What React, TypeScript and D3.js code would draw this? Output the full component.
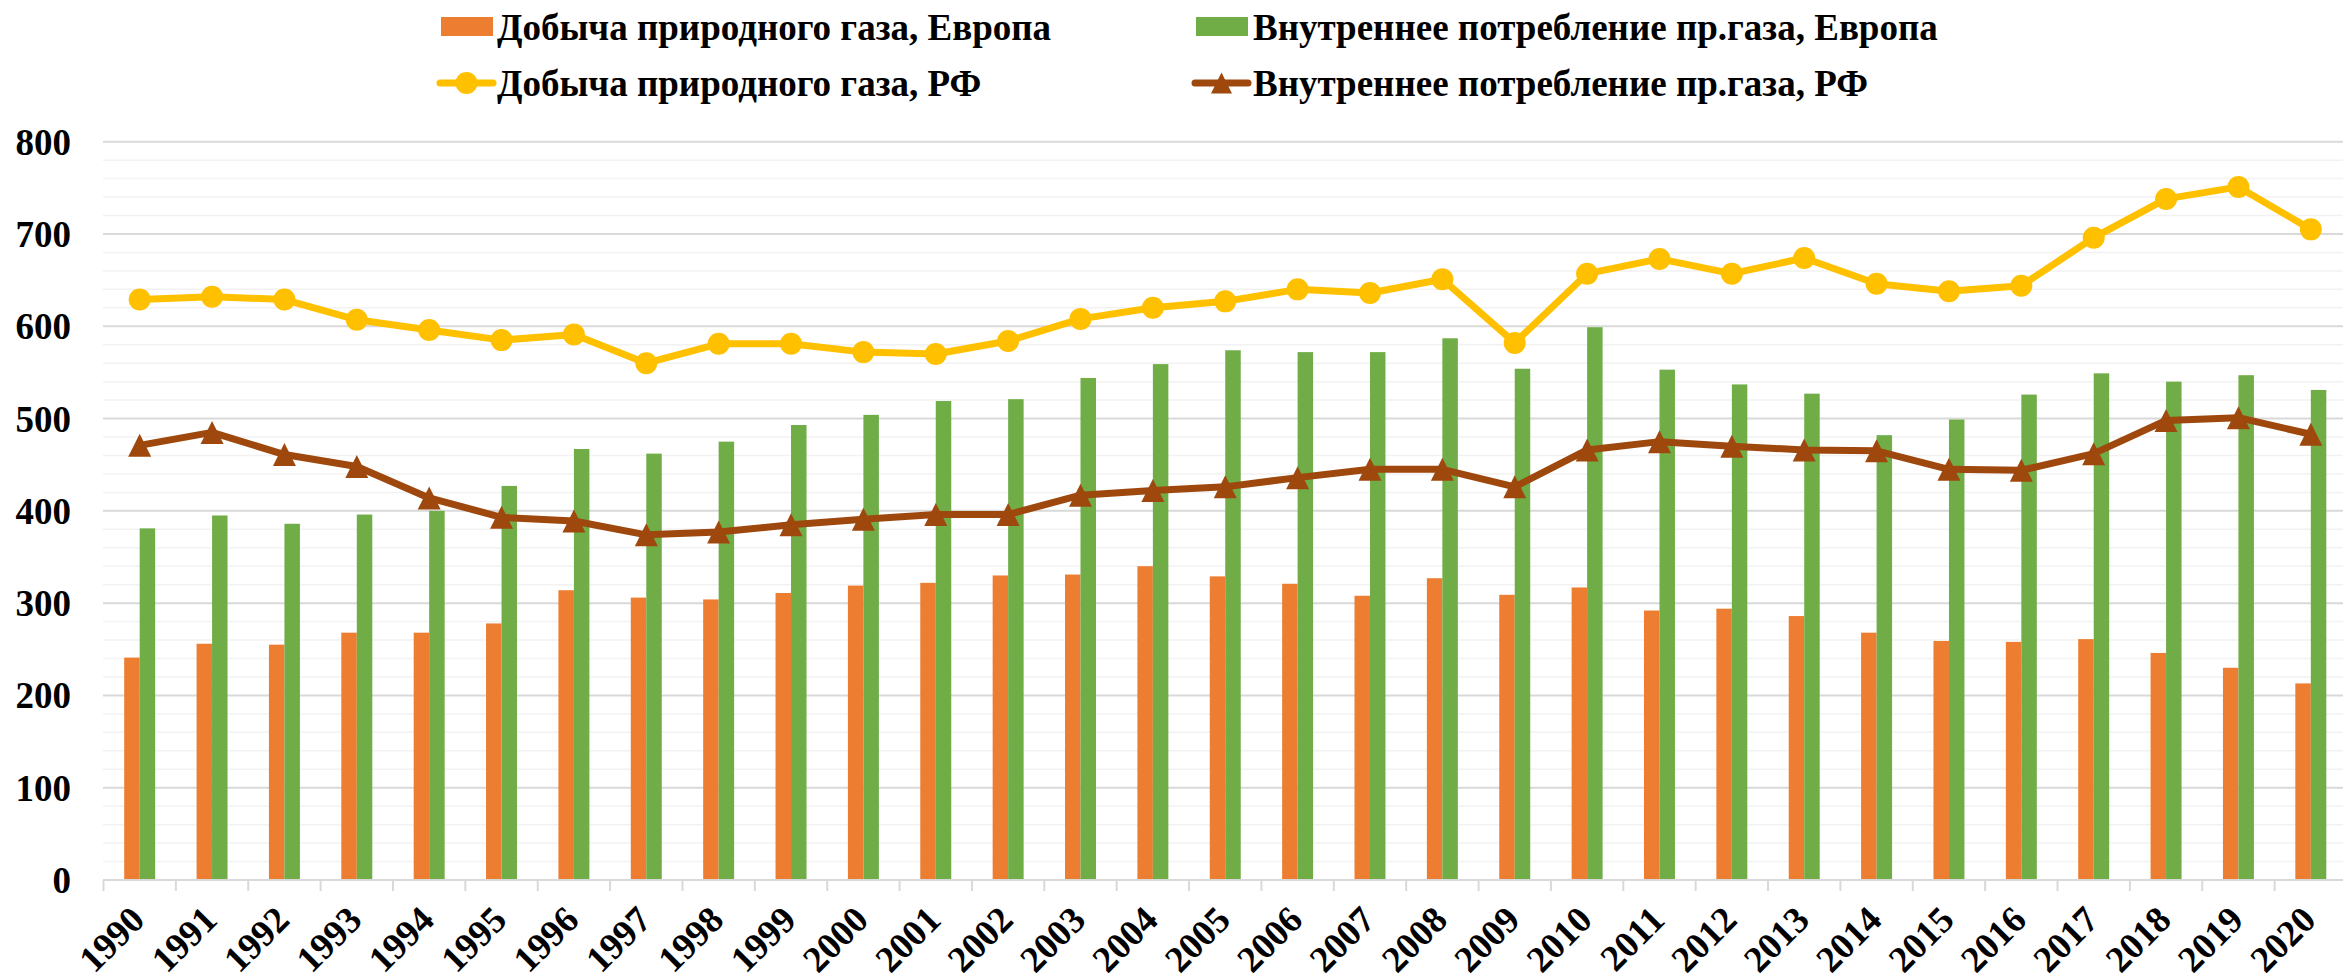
import React from 'react';
import * as d3 from 'd3';

// years on the x axis
const years = d3.range(1990, 2021).map(String);

// Europe, bars
const euProduction = [241, 256, 255, 268, 268, 278, 314, 306, 304, 311, 319, 322, 330, 331, 340, 329, 321, 308, 327, 309, 317, 292, 294, 286, 268, 259, 258, 261, 246, 230, 213];
const euConsumption = [381, 395, 386, 396, 400, 427, 467, 462, 475, 493, 504, 519, 521, 544, 559, 574, 572, 572, 587, 554, 599, 553, 537, 527, 482, 499, 526, 549, 540, 547, 531];

// Russia, lines
const ruProduction = [629, 632, 629, 607, 596, 585, 591, 560, 581, 581, 572, 570, 584, 608, 620, 627, 640, 636, 651, 582, 657, 673, 657, 674, 646, 638, 644, 696, 738, 751, 705];
const ruConsumption = [471, 485, 461, 448, 414, 393, 389, 374, 377, 385, 391, 396, 396, 417, 422, 426, 436, 445, 445, 426, 466, 475, 470, 466, 465, 445, 444, 462, 498, 501, 483];

const yTicks = [0, 100, 200, 300, 400, 500, 600, 700, 800];
const yMinor = d3.range(20, 800, 20).filter(v => v % 100 !== 0);

const legendLabels = [
    'Добыча природного газа, Европа',
    'Внутреннее потребление пр.газа, Европа',
    'Добыча природного газа, РФ',
    'Внутреннее потребление пр.газа, РФ',
];

const W = 2343, H = 980;
const FONT = '"Liberation Serif", "Times New Roman", Times, serif';
const ORANGE = '#ED7D31', GREEN = '#70AD47', YELLOW = '#FFC000', BROWN = '#9E480E';

const triangle = (cx, cy, s) =>
    `M${cx},${cy - s / 2}L${cx + s / 2},${cy + s / 2}L${cx - s / 2},${cy + s / 2}Z`;

export default function App() {
    const x = d3.scaleBand().domain(years).range([103.5, 2347]).paddingInner(0.572).paddingOuter(0.286);
    const sub = d3.scaleBand().domain(['prod', 'cons']).range([0, x.bandwidth()]);
    const y = d3.scaleLinear().domain([0, 800]).range([880, 141.7]);
    const cx = d => x(d) + x.bandwidth() / 2;

    const line = d3.line().x(d => cx(d[0])).y(d => y(d[1]));
    const prodPts = years.map((d, i) => [d, ruProduction[i]]);
    const consPts = years.map((d, i) => [d, ruConsumption[i]]);
    const bounds = d3.range(years.length + 1).map(i => x.range()[0] + i * x.step());

    return (
        <>
            <style>{'body{margin:0}'}</style>
            <svg width={W} height={H} style={{ display: 'block', background: '#fff', fontFamily: FONT, fontWeight: 'bold' }}>
                {/* grid */}
                {yMinor.map(v => (
                    <line key={'m' + v} x1={103} x2={W} y1={y(v)} y2={y(v)} stroke="#F2F2F2" strokeWidth={1.5} />
                ))}
                {yTicks.map(v => (
                    <line key={'g' + v} x1={103} x2={W} y1={y(v)} y2={y(v)} stroke="#D9D9D9" strokeWidth={2} />
                ))}
                {yTicks.map(v => (
                    <text key={'t' + v} x={71} y={y(v)} dy="0.35em" textAnchor="end" fontSize={37}>{v}</text>
                ))}

                {/* bars */}
                {years.map((d, i) => (
                    <g key={'b' + d}>
                        <rect x={x(d) + sub('prod')} width={sub.bandwidth()} y={y(euProduction[i])} height={y(0) - y(euProduction[i])} fill={ORANGE} />
                        <rect x={x(d) + sub('cons')} width={sub.bandwidth()} y={y(euConsumption[i])} height={y(0) - y(euConsumption[i])} fill={GREEN} />
                    </g>
                ))}

                {/* x axis */}
                <line x1={103} x2={W} y1={y(0)} y2={y(0)} stroke="#D9D9D9" strokeWidth={2} />
                {bounds.map((b, i) => (
                    <line key={'k' + i} x1={b} x2={b} y1={y(0)} y2={y(0) + 11} stroke="#D9D9D9" strokeWidth={2} />
                ))}
                {years.map(d => (
                    <text key={'x' + d} transform={`translate(${cx(d) + 7},922) rotate(-45)`} textAnchor="end" fontSize={37}>{d}</text>
                ))}

                {/* lines */}
                <path d={line(prodPts)} fill="none" stroke={YELLOW} strokeWidth={7} strokeLinejoin="round" />
                {prodPts.map(p => (
                    <circle key={'c' + p[0]} cx={cx(p[0])} cy={y(p[1])} r={11} fill={YELLOW} />
                ))}
                <path d={line(consPts)} fill="none" stroke={BROWN} strokeWidth={7} strokeLinejoin="round" />
                {consPts.map(p => (
                    <path key={'r' + p[0]} d={triangle(cx(p[0]), y(p[1]), 23)} fill={BROWN} />
                ))}

                {/* legend */}
                <g fontSize={37}>
                    <rect x={441} y={17} width={52} height={19} fill={ORANGE} />
                    <text x={497} y={40}>{legendLabels[0]}</text>
                    <rect x={1196} y={17} width={52} height={19} fill={GREEN} />
                    <text x={1253} y={40}>{legendLabels[1]}</text>

                    <line x1={440} x2={493} y1={83} y2={83} stroke={YELLOW} strokeWidth={7} strokeLinecap="round" />
                    <circle cx={466.5} cy={83} r={11} fill={YELLOW} />
                    <text x={497} y={96}>{legendLabels[2]}</text>
                    <line x1={1195} x2={1248} y1={83} y2={83} stroke={BROWN} strokeWidth={7} strokeLinecap="round" />
                    <path d={triangle(1221.5, 83, 21)} fill={BROWN} />
                    <text x={1253} y={96}>{legendLabels[3]}</text>
                </g>
            </svg>
        </>
    );
}
